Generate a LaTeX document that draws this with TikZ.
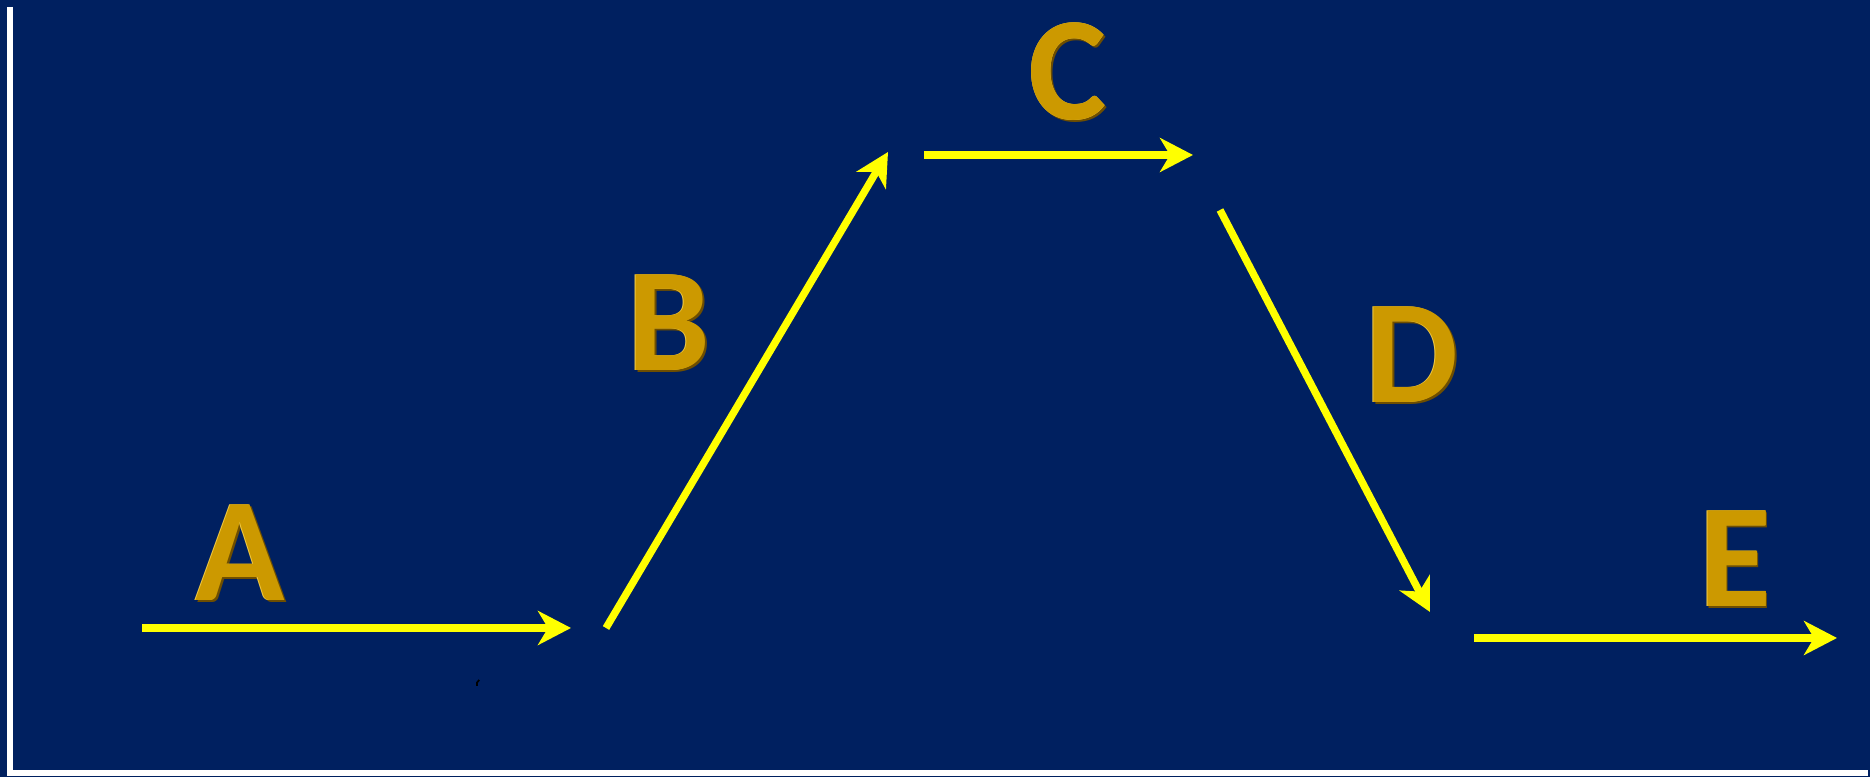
\documentclass[tikz,border=0pt]{standalone}
\usepackage{xcolor}
\usepackage{tikz}
\usepackage{fontspec}
\setmainfont{Carlito}
\usetikzlibrary{arrows.meta, positioning, calc}
\definecolor{navybg}{RGB}{0,32,96}
\definecolor{pathyellow}{RGB}{255,255,0}
\definecolor{goldface}{RGB}{204,153,0}
\definecolor{goldedge}{RGB}{110,78,0}
\definecolor{goldlight}{RGB}{245,205,70}

\begin{document}
\begin{tikzpicture}[
    letter/.style={font=\bfseries\fontsize{42}{42}\selectfont, text=goldface, inner sep=0pt},
    lettershade/.style={letter, text=goldedge},
    lettershine/.style={letter, text=goldlight},
    arrow/.style={pathyellow, line width=2.1pt,
                  -{Stealth[length=3.3mm, width=3.4mm, inset=1mm]}},
    axis/.style={white, line width=1.5pt}]

% background and frame
\useasboundingbox (0,0) rectangle (18.70,7.77);
\fill[navybg] (-0.2,-0.2) rectangle (18.90,7.97);
\coordinate (origin) at (0.10,0.04);
\coordinate (ytop)   at (0.10,7.70);
\coordinate (xend)   at (18.68,0.04);
\draw[axis] (ytop) -- (origin) -- (xend);

% stroke ends
\coordinate (a1) at (1.42,1.49);  \coordinate (a2) at (5.71,1.49);
\coordinate (b1) at (6.06,1.49);  \coordinate (b2) at (8.88,6.25);
\coordinate (c1) at (9.24,6.22);  \coordinate (c2) at (11.93,6.22);
\coordinate (d1) at (12.20,5.67); \coordinate (d2) at (14.30,1.65);
\coordinate (e1) at (14.74,1.39); \coordinate (e2) at (18.37,1.39);

\draw [arrow] (a1) -- (a2);
\draw [arrow] (b1) -- (b2);
\draw [arrow] (c1) -- (c2);
\draw [arrow] (d1) -- (d2);
\draw [arrow] (e1) -- (e2);

% letters: dark copy below, light copy above, face on top
\foreach \name/\x/\y in {A/2.40/2.24, B/6.69/4.54, C/10.68/7.05, D/14.12/4.22, E/17.35/2.18} {
    \node[lettershade] at (\x+0.018,\y-0.018) {\name};
    \node[lettershine] at (\x-0.008,\y+0.008) {\name};
    \node[letter] (let\name) at (\x,\y) {\name};
}

% small stray mark below the first stroke
\coordinate (mark) at (4.77,0.91);
\draw[black, line width=0.5pt] (mark) arc[start angle=200, end angle=120, radius=0.05];
\end{tikzpicture}
\end{document}
